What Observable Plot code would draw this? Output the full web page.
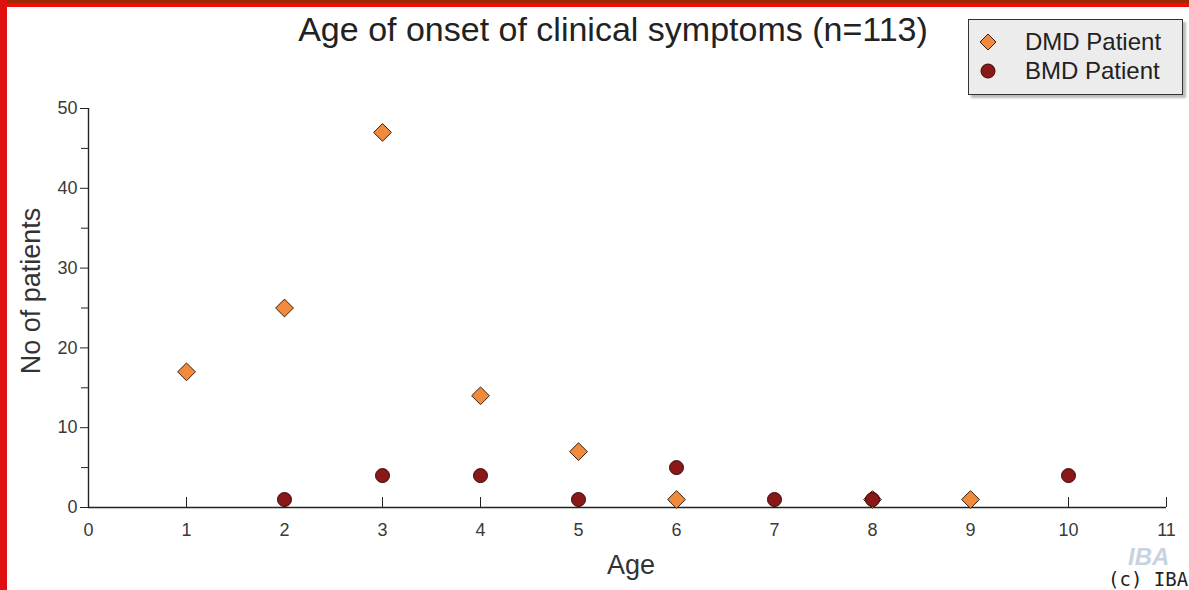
<!DOCTYPE html>
<html>
<head>
<meta charset="utf-8">
<script src="https://cdn.jsdelivr.net/npm/d3@7"></script>
<script src="https://cdn.jsdelivr.net/npm/@observablehq/plot@0.6"></script>
<style>
  html, body { margin: 0; padding: 0; background: #fff; }
  #wrap { position: relative; width: 1189px; height: 590px; overflow: hidden; background: #fff; font-family: "Liberation Sans", Arial, sans-serif; }
  #topband { position: absolute; left: 0; top: 0; width: 1189px; height: 3px; background: #9c2a00; }
  #topred { position: absolute; left: 0; top: 3px; width: 1189px; height: 4px; background: #f20d0d; }
  #leftred { position: absolute; left: 0; top: 0; width: 7px; height: 590px; background: #e01010; }
  #chart { position: absolute; left: 0; top: 0; }
  #chart svg text { font-size: 18px !important; font-family: "Liberation Sans", Arial, sans-serif !important; }
  #title { position: absolute; left: 0; width: 1226px; top: 9px; text-align: center; font-size: 34px; line-height: 40px; color: #222; }
  #xlabel { position: absolute; left: 607px; top: 549px; font-size: 27px; line-height: 32px; color: #333; }
  #ylabel { position: absolute; left: 31px; top: 291px; font-size: 27px; line-height: 32px; color: #333; transform: translate(-50%, -50%) rotate(-90deg); white-space: nowrap; }
  #legend { position: absolute; left: 968px; top: 19px; width: 213px; height: 74px; background: #ececec; border: 1.5px solid #333; box-shadow: 3px 3px 2px #bbb; }
  .lrow { position: absolute; left: 0; height: 28px; display: flex; align-items: center; font-size: 24px; color: #222; }
  .lrow svg { margin-left: 9px; margin-right: 27px; }
  #wm1 { position: absolute; left: 1128px; top: 544px; font-size: 24px; line-height: 26px; font-style: italic; font-weight: bold; color: #c9d3e0; }
  #wm2 { position: absolute; left: 1108px; top: 569px; font-size: 19px; line-height: 21px; font-family: "DejaVu Sans Mono", monospace; color: #222; white-space: nowrap; }
</style>
</head>
<body>
<div id="wrap">
  <div id="topband"></div>
  <div id="topred"></div>
  <div id="leftred"></div>
  <div id="chart"></div>
  <div id="title">Age of onset of clinical symptoms (n=113)</div>
  <div id="xlabel">Age</div>
  <div id="ylabel">No of patients</div>
  <div id="wm1">IBA</div>
  <div id="wm2">(c) IBA</div>
  <div id="legend">
    <div class="lrow" style="top:8px"><svg width="20" height="20" viewBox="-10 -10 20 20"><path d="M0,-8L8,0L0,8L-8,0Z" fill="#f08a3c" stroke="#3b2010" stroke-width="1"/></svg>DMD Patient</div>
    <div class="lrow" style="top:37px"><svg width="20" height="20" viewBox="-10 -10 20 20"><circle r="7" fill="#8a1818" stroke="#3a0808" stroke-width="1"/></svg>BMD Patient</div>
  </div>
</div>
<script>
const xTicks = [0, 1, 2, 3, 4, 5, 6, 7, 8, 9, 10, 11];
const yMajorTicks = [0, 10, 20, 30, 40, 50];
const yMinorTicks = [5, 15, 25, 35, 45];

const dmdAge = [1, 2, 3, 4, 5, 6, 8, 9];
const dmdCount = [17, 25, 47, 14, 7, 1, 1, 1];
const bmdAge = [2, 3, 4, 5, 6, 7, 8, 10];
const bmdCount = [1, 4, 4, 1, 5, 1, 1, 4];

const dmd = dmdAge.map((a, i) => ({age: a, n: dmdCount[i]}));
const bmd = bmdAge.map((a, i) => ({age: a, n: bmdCount[i]}));

const chart = Plot.plot({
  width: 1189,
  height: 590,
  marginLeft: 88,
  marginRight: 23,
  marginTop: 108,
  marginBottom: 83,
  x: {domain: [0, 11]},
  y: {domain: [0, 50]},
  style: {fontFamily: "'Liberation Sans', Arial, sans-serif", fontSize: "18px", color: "#222", background: "transparent", overflow: "visible"},
  marks: [
    Plot.axisY({ticks: yMajorTicks, tickSize: 8, tickPadding: 3, label: null, fill: "#3a3a3a"}),
    Plot.axisY({ticks: yMinorTicks, tickSize: 7, label: null, fill: "none"}),
    Plot.axisX({ticks: xTicks, tickSize: -10, tickPadding: 26, label: null, fill: "#3a3a3a"}),
    Plot.ruleX([0], {stroke: "#222", strokeWidth: 1.4}),
    Plot.ruleY([0], {stroke: "#222", strokeWidth: 1.4}),
    Plot.dot(dmd, {x: "age", y: "n", symbol: "diamond2", r: 8, fill: "#f08a3c", stroke: "#3b2010", strokeWidth: 1}),
    Plot.dot(bmd, {x: "age", y: "n", symbol: "circle", r: 7, fill: "#8a1818", stroke: "#3a0808", strokeWidth: 1})
  ]
});
document.getElementById("chart").appendChild(chart);
</script>
</body>
</html>
